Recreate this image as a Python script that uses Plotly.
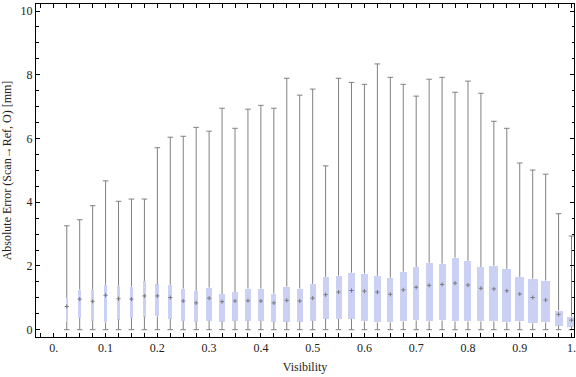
import plotly.graph_objects as go

# ---- data ----
visibility = [0.025, 0.05, 0.075, 0.1, 0.125, 0.15, 0.175, 0.2, 0.225, 0.25,
              0.275, 0.3, 0.325, 0.35, 0.375, 0.4, 0.425, 0.45, 0.475, 0.5,
              0.525, 0.55, 0.575, 0.6, 0.625, 0.65, 0.675, 0.7, 0.725, 0.75,
              0.775, 0.8, 0.825, 0.85, 0.875, 0.9, 0.925, 0.95, 0.975, 1.0]

whisker_max = [3.26, 3.45, 3.89, 4.67, 4.03, 4.10, 4.10, 5.71, 6.04, 6.07,
               6.35, 6.23, 6.95, 6.32, 6.92, 7.04, 6.95, 7.89, 7.36, 7.55,
               5.14, 7.89, 7.76, 7.70, 8.34, 7.92, 7.70, 7.33, 7.86, 7.92,
               7.45, 7.80, 7.42, 6.54, 6.32, 5.23, 5.01, 4.88, 3.64, 2.94]

q3 = [1.00, 1.26, 1.25, 1.41, 1.38, 1.35, 1.53, 1.42, 1.41, 1.29,
      1.22, 1.32, 1.12, 1.18, 1.29, 1.29, 1.13, 1.35, 1.29, 1.44,
      1.66, 1.70, 1.79, 1.76, 1.69, 1.63, 1.82, 1.97, 2.10, 2.07,
      2.26, 2.16, 1.97, 2.01, 1.91, 1.66, 1.60, 1.54, 0.60, 0.41]

median = [0.73, 0.96, 0.89, 1.08, 0.97, 0.96, 1.06, 1.06, 1.01, 0.90,
          0.84, 0.99, 0.88, 0.90, 0.91, 0.90, 0.84, 0.92, 0.90, 0.99,
          1.10, 1.18, 1.23, 1.21, 1.18, 1.11, 1.25, 1.33, 1.39, 1.42,
          1.46, 1.40, 1.30, 1.28, 1.22, 1.12, 1.01, 0.93, 0.48, 0.30]

q1 = [0.26, 0.37, 0.28, 0.23, 0.32, 0.37, 0.41, 0.42, 0.34, 0.28,
      0.25, 0.28, 0.25, 0.28, 0.28, 0.28, 0.25, 0.25, 0.25, 0.28,
      0.34, 0.34, 0.34, 0.26, 0.23, 0.23, 0.26, 0.29, 0.26, 0.29,
      0.26, 0.26, 0.26, 0.26, 0.23, 0.26, 0.20, 0.23, 0.13, 0.10]

whisker_min = [0.0] * 40

x_ticks = [0.0, 0.1, 0.2, 0.3, 0.4, 0.5, 0.6, 0.7, 0.8, 0.9, 1.0]
x_tick_labels = ["0.", "0.1", "0.2", "0.3", "0.4", "0.5", "0.6", "0.7", "0.8", "0.9", "1."]
y_ticks = [0, 2, 4, 6, 8, 10]
y_tick_labels = ["0", "2", "4", "6", "8", "10"]

# ---- style ----
box_width_px = [2.3, 2.7, 3.3, 3.3, 3.3, 3.0, 3.7, 4, 4, 4,
                4.3, 6, 6, 6.3, 6.3, 5.7, 5.3, 7, 6, 5.7,
                6, 6, 6.3, 6.3, 6.3, 6, 6.7, 6.3, 6.7, 7,
                7, 7, 7, 9, 8.7, 9.3, 9.7, 9.7, 8, 8.3]
PX_PER_UNIT = 517.7
box_widths = [w / PX_PER_UNIT for w in box_width_px]

BOX_COLOR = "#cbd1f4"
WHISK = "#808080"
FONT = "Liberation Serif"

fig = go.Figure()

# boxes
fig.add_trace(go.Bar(
    x=visibility, base=q1, y=[h - l for h, l in zip(q3, q1)],
    width=box_widths, marker=dict(color=BOX_COLOR, line=dict(width=0)),
    showlegend=False, hoverinfo="skip"))

# whiskers (split so they do not cross the box)
wx, wy = [], []
for x, lo, a, b, hi in zip(visibility, whisker_min, q1, q3, whisker_max):
    wx += [x, x, None, x, x, None]
    wy += [lo, a, None, b, hi, None]
fig.add_trace(go.Scatter(x=wx, y=wy, mode="lines",
                         line=dict(color=WHISK, width=1),
                         showlegend=False, hoverinfo="skip"))

# caps
fig.add_trace(go.Scatter(
    x=visibility + visibility, y=whisker_max + whisker_min, mode="markers",
    marker=dict(symbol="line-ew", size=4, line=dict(color=WHISK, width=1)),
    showlegend=False, hoverinfo="skip"))

# medians
fig.add_trace(go.Scatter(
    x=visibility, y=median, mode="markers",
    marker=dict(symbol="cross-thin", size=3, line=dict(color="#7a7a7a", width=1)),
    showlegend=False, hoverinfo="skip"))

axis_common = dict(
    showline=True, linecolor="black", linewidth=1, mirror="allticks",
    ticks="inside", tickcolor="black", tickwidth=1,
    showgrid=False, zeroline=False, automargin=False,
    ticklabeloverflow="allow",
    tickfont=dict(family=FONT, size=12, color="#222222"),
)

fig.update_xaxes(
    range=[-0.0344, 1.0048], tickmode="array", tickvals=x_ticks, ticktext=x_tick_labels,
    ticklen=4,
    minor=dict(dtick=0.025, tick0=0, ticks="inside", ticklen=4, tickcolor="black", showgrid=False),
    title=dict(text="Visibility", font=dict(family=FONT, size=12, color="#222222"), standoff=8),
    **axis_common)
fig.update_yaxes(
    range=[-0.229, 10.22], tickmode="array", tickvals=y_ticks, ticktext=y_tick_labels,
    ticklen=4,
    minor=dict(dtick=0.5, tick0=0, ticks="inside", ticklen=2.5, tickcolor="black", showgrid=False),
    title=dict(text="Absolute Error (Scan→Ref, O) [mm]", font=dict(family=FONT, size=12, color="#222222"), standoff=6),
    **axis_common)

fig.update_layout(
    width=576, height=377,
    margin=dict(l=36, r=2, t=4, b=40),
    plot_bgcolor="white", paper_bgcolor="white",
    bargap=0, showlegend=False,
)

fig.write_html("out.html",
               config={"displayModeBar": False},
               post_script="document.body.style.margin='0';document.body.style.padding='0';")
